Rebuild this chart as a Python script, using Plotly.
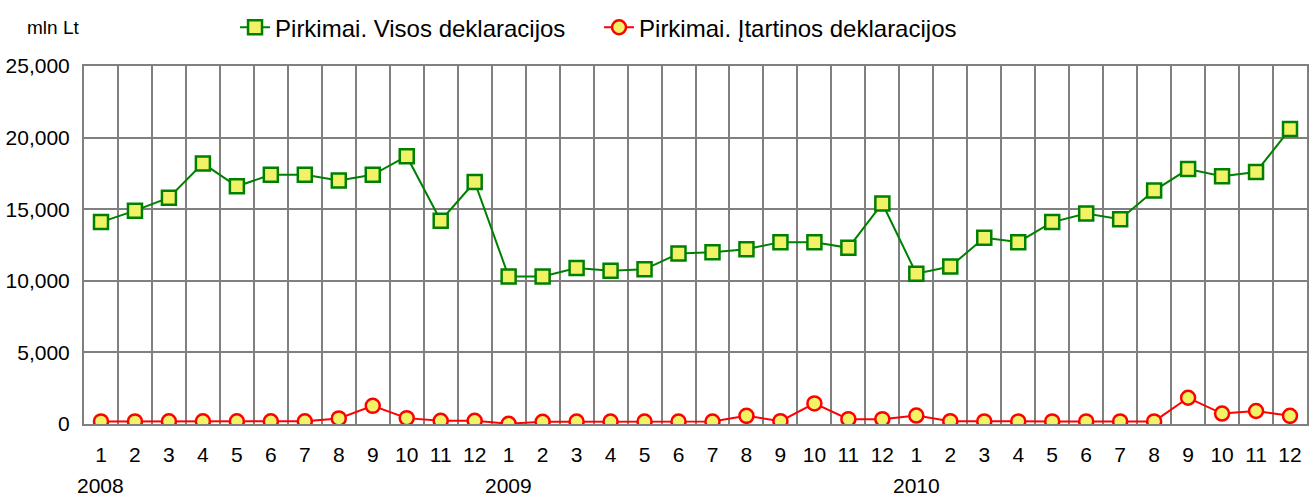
import plotly.graph_objects as go

years = [2008, 2009, 2010]
months = list(range(1, 13))

visos = [14100, 14900, 15800, 18200, 16600, 17400, 17400, 17000, 17400, 18700, 14200, 16900,
         10300, 10300, 10900, 10700, 10800, 11900, 12000, 12200, 12700, 12700, 12300, 15400,
         10500, 11000, 13000, 12700, 14100, 14700, 14300, 16300, 17800, 17300, 17600, 20600]

itartinos = [180, 180, 190, 190, 190, 190, 190, 390, 1270, 410, 230, 230,
             20, 160, 170, 170, 170, 170, 170, 570, 200, 1440, 340, 340,
             590, 200, 180, 180, 180, 180, 180, 180, 1830, 730, 910, 570]

name_visos = "Pirkimai. Visos deklaracijos"
name_itart = "Pirkimai. Įtartinos deklaracijos"
y_unit = "mln Lt"

x = list(range(1, len(years) * len(months) + 1))
ticktext = [str(m) for y in years for m in months]
year_x = [1 + i * len(months) for i in range(len(years))]

FONT = "Liberation Sans, Arial, sans-serif"
fill = "#F2F266"

W, H = 1312, 496
L, R, T, B = 84, 5, 60, 72
PW, PH = W - L - R, H - T - B

fig = go.Figure()
fig.add_trace(go.Scatter(
    x=x, y=visos, name=name_visos, mode="lines+markers",
    line=dict(color="#008000", width=2),
    marker=dict(symbol="square", size=14, color=fill, line=dict(color="#008000", width=2.5)),
))
fig.add_trace(go.Scatter(
    x=x, y=itartinos, name=name_itart, mode="lines+markers",
    line=dict(color="#FF0000", width=2),
    marker=dict(symbol="circle", size=14, color=fill, line=dict(color="#FF0000", width=2.5)),
))

annotations = [dict(text=y_unit, xref="paper", yref="paper",
                    x=(25 - L) / PW, xanchor="left", y=1 + (T - 21) / PH, yanchor="middle",
                    showarrow=False, font=dict(size=19))]
for yr, xv in zip(years, year_x):
    annotations.append(dict(text=str(yr), xref="x", yref="paper", x=xv, xanchor="center",
                            y=-63 / PH, yanchor="middle", showarrow=False, font=dict(size=21)))

fig.update_layout(
    width=W, height=H,
    margin=dict(l=L, r=R, t=T, b=B),
    paper_bgcolor="white", plot_bgcolor="white",
    font=dict(family=FONT, size=21, color="black"),
    showlegend=True,
    legend=dict(orientation="h", x=0.1235, xanchor="left", y=1 + (T - 21) / PH, yanchor="middle",
                font=dict(size=24), entrywidth=319, itemwidth=30, bgcolor="rgba(0,0,0,0)"),
    xaxis=dict(
        range=[0.5, len(x) + 0.5], tickvals=x, ticktext=ticktext,
        showgrid=False, zeroline=False, automargin=False,
        ticks="outside", ticklen=11, tickcolor="rgba(0,0,0,0)",
        showline=True, linecolor="#808080", linewidth=2, mirror=True,
        minor=dict(tick0=0.5, dtick=1, showgrid=True, gridcolor="#808080", gridwidth=2, ticks=""),
        tickfont=dict(size=21),
    ),
    yaxis=dict(
        range=[0, 25000], dtick=5000, tickformat=",d", automargin=False,
        showgrid=True, gridcolor="#808080", gridwidth=2, zeroline=False,
        showline=True, linecolor="#808080", linewidth=2, mirror=True,
        ticks="outside", ticklen=8, tickcolor="rgba(0,0,0,0)",
        tickfont=dict(size=21),
    ),
    annotations=annotations,
)

fig.write_html("out.html", config={"displayModeBar": False},
               post_script="document.body.style.margin='0';")
